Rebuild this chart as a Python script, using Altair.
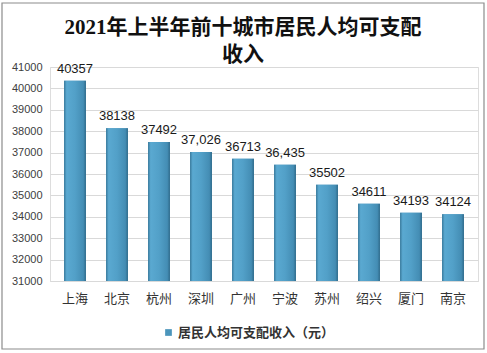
import altair as alt
import pandas as pd

cities = ["上海", "北京", "杭州", "深圳", "广州", "宁波", "苏州", "绍兴", "厦门", "南京"]
values = [40357, 38138, 37492, 37026, 36713, 36435, 35502, 34611, 34193, 34124]
labels = ["40357", "38138", "37492", "37,026", "36713", "36,435", "35502", "34611", "34193", "34124"]
series_name = "居民人均可支配收入（元）"
title_lines = ["2021年上半年前十城市居民人均可支配", "收入"]
y_ticks = list(range(31000, 41001, 1000))

df = pd.DataFrame({"city": cities, "value": values, "label": labels, "series": [series_name] * len(cities)})

x_enc = alt.X("city:N", sort=cities, title=None,
              scale=alt.Scale(paddingInner=0.48, paddingOuter=0.335),
              axis=alt.Axis(labelAngle=0, labelFontSize=13, labelColor="#333333",
                            labelFont="Noto Sans CJK SC", labelPadding=11,
                            ticks=False, domainColor="#d9d9d9", grid=False))
y_enc = alt.Y("value:Q", title=None,
              scale=alt.Scale(domain=[31000, 41000], zero=False, nice=False),
              axis=alt.Axis(values=y_ticks, format="d", labelFontSize=11, labelColor="#404040",
                            labelFont="Liberation Sans", labelPadding=8, ticks=False,
                            domain=False, gridColor="#d9d9d9"))

base = alt.Chart(df)

legend_bars = base.mark_bar().encode(
    x=x_enc, y=y_enc, y2=alt.datum(31000),
    color=alt.Color("series:N", scale=alt.Scale(range=["#4b95bb"]),
                    legend=alt.Legend(title=None, orient="none", legendX=112, legendY=259,
                                      symbolType="square", symbolSize=45, symbolStrokeWidth=0,
                                      labelFontSize=13, labelFont="Noto Sans CJK SC",
                                      labelFontWeight="bold", labelColor="#333333",
                                      labelOffset=3)),
)

grad = alt.Gradient(
    gradient="linear", x1=0, x2=1, y1=0, y2=0,
    stops=[alt.GradientStop(color="#3a7a9c", offset=0),
           alt.GradientStop(color="#5aa9d1", offset=0.12),
           alt.GradientStop(color="#52a0c8", offset=0.5),
           alt.GradientStop(color="#448db4", offset=0.88),
           alt.GradientStop(color="#2f6a8a", offset=1)])

bars = base.mark_bar(color=grad).encode(x=x_enc, y=y_enc, y2=alt.datum(31000))

text = base.mark_text(dy=-12, fontSize=13, font="Liberation Sans", color="#1a1a1a").encode(
    x=x_enc, y=y_enc, text="label:N")

one = pd.DataFrame({"k": [0]})

frame = alt.Chart(one).mark_rect(
    fill=None, stroke="#8c8c8c", strokeWidth=1.2).encode(
    x=alt.value(-48), x2=alt.value(434), y=alt.value(-64), y2=alt.value(282))

title = alt.Chart(one).mark_text(
    fontSize=21, font="Liberation Serif, Noto Sans CJK SC", fontWeight="bold",
    color="#111111", align="center", baseline="top", lineHeight=27).encode(
    x=alt.value(193), y=alt.value(-50), text=alt.value(title_lines))

chart = alt.layer(legend_bars, bars, text, frame, title).properties(
    width=428, height=214,
    autosize=alt.AutoSizeParams(type="none"),
    padding={"left": 50, "top": 67, "right": 9, "bottom": 72},
).configure_view(stroke=None).configure(background="white")

chart.save("out.html", embed_options={"renderer": "svg", "actions": False})
